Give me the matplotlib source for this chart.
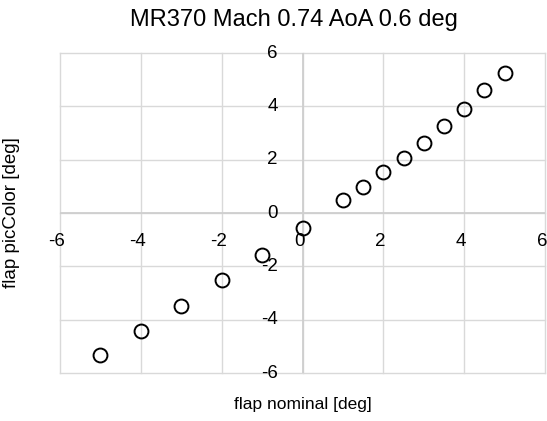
import matplotlib
matplotlib.use("Agg")
import matplotlib.pyplot as plt
import matplotlib.transforms as mtransforms

plt.rcParams['font.family'] = ['Liberation Sans', 'DejaVu Sans']

title = "MR370 Mach 0.74 AoA 0.6 deg"
x_label = "flap nominal [deg]"
y_label = "flap picColor [deg]"

flap_nominal = [-5, -4, -3, -2, -1, 0, 1, 1.5, 2, 2.5, 3, 3.5, 4, 4.5, 5]
flap_piccolor = [-5.32, -4.41, -3.48, -2.51, -1.57, -0.57, 0.47, 0.97, 1.53,
                 2.08, 2.62, 3.25, 3.90, 4.60, 5.25]

x_ticks = [-6, -4, -2, 0, 2, 4, 6]
y_ticks = [-6, -4, -2, 0, 2, 4, 6]

W, H = 547, 421
fig = plt.figure(figsize=(W / 100, H / 100), dpi=100)
ax = fig.add_axes([60 / W, (H - 373) / H, (545 - 60) / W, (373 - 53) / H])
ax.set_xlim(-6, 6)
ax.set_ylim(-6, 6)
for s in ax.spines.values():
    s.set_visible(False)
ax.set_xticks([])
ax.set_yticks([])

grid_c = '#d9d9d9'
for t in x_ticks:
    ax.axvline(t, color=grid_c, lw=1.0, zorder=1, clip_on=False)
for t in y_ticks:
    ax.axhline(t, color=grid_c, lw=1.0, zorder=1, clip_on=False)
ax.axvline(0, color='#cfcfcf', lw=1.3, zorder=1.5)
ax.axhline(0, color='#cfcfcf', lw=1.3, zorder=1.5)

ax.plot(flap_nominal, flap_piccolor, linestyle='none', marker='o',
        markersize=10, markerfacecolor='none', markeredgecolor='black',
        markeredgewidth=1.4, zorder=3, clip_on=False)

tick_fs = 13.5
# x tick labels below the y=0 line
off_x = mtransforms.ScaledTranslation(-3 / 100, -28 / 100, fig.dpi_scale_trans)
for t in x_ticks:
    ax.text(t, 0, f"{t:g}", transform=ax.transData + off_x, ha='center',
            va='center', fontsize=tick_fs, color='black', zorder=2, clip_on=False)
# y tick labels left of the x=0 line
off_y = mtransforms.ScaledTranslation(-25 / 100, 0, fig.dpi_scale_trans)
for t in y_ticks:
    ax.text(0, t, f"{t:g}", transform=ax.transData + off_y, ha='right',
            va='center', fontsize=tick_fs, color='black', zorder=2, clip_on=False)

fig.text(294 / W, 1 - 20 / H, title, ha='center', va='center', fontsize=17)
fig.text(303 / W, 1 - 405 / H, x_label, ha='center', va='center', fontsize=12.5)
fig.text(12 / W, 1 - 213 / H, y_label, ha='center', va='center', fontsize=13.5,
         rotation=90)

fig.savefig("out.png", dpi=100)
